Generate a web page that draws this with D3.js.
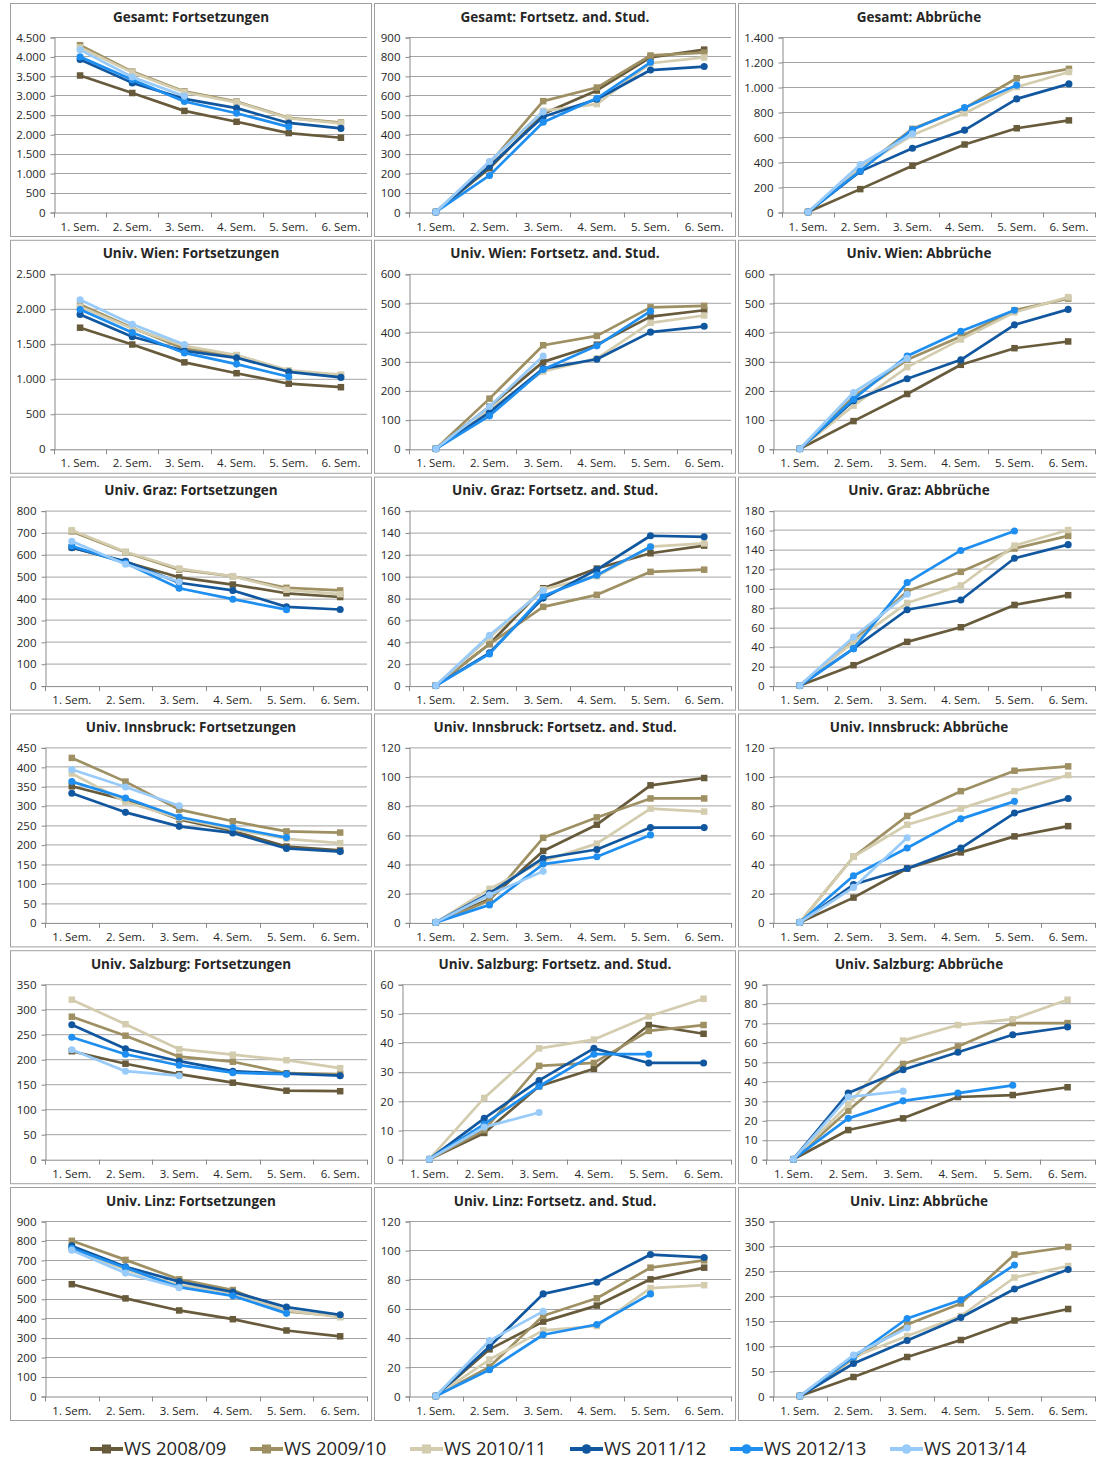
<!DOCTYPE html>
<html>
<head>
<meta charset="utf-8">
<script src="https://cdn.jsdelivr.net/npm/d3@7"></script>
<style>
  html, body { margin: 0; padding: 0; background: #fff; }
  svg { display: block; font-family: "Open Sans", Lato, sans-serif; }
</style>
</head>
<body>
<svg id="chart" width="1096" height="1459"></svg>
<script>
// Semesters on the x axis and the starting cohorts (one line each)
const semesters = ["1. Sem.", "2. Sem.", "3. Sem.", "4. Sem.", "5. Sem.", "6. Sem."];
const cohorts = ["WS 2008/09", "WS 2009/10", "WS 2010/11", "WS 2011/12", "WS 2012/13", "WS 2013/14"];
const cohortColors = ["#675b3c", "#9e9063", "#d3ccae", "#11579f", "#1e8ff0", "#98cbf9"];
const cohortMarkers = ["square", "square", "square", "circle", "circle", "circle"];

// Panel titles, row by row
const panelTitles = [
  "Gesamt: Fortsetzungen", "Gesamt: Fortsetz. and. Stud.", "Gesamt: Abbrüche",
  "Univ. Wien: Fortsetzungen", "Univ. Wien: Fortsetz. and. Stud.", "Univ. Wien: Abbrüche",
  "Univ. Graz: Fortsetzungen", "Univ. Graz: Fortsetz. and. Stud.", "Univ. Graz: Abbrüche",
  "Univ. Innsbruck: Fortsetzungen", "Univ. Innsbruck: Fortsetz. and. Stud.", "Univ. Innsbruck: Abbrüche",
  "Univ. Salzburg: Fortsetzungen", "Univ. Salzburg: Fortsetz. and. Stud.", "Univ. Salzburg: Abbrüche",
  "Univ. Linz: Fortsetzungen", "Univ. Linz: Fortsetz. and. Stud.", "Univ. Linz: Abbrüche"
];

// Value axis range and tick step per panel
const yMax  = [4500, 900, 1400, 2500, 600, 600, 800, 160, 180, 450, 120, 120, 350, 60, 90, 900, 120, 350];
const yStep = [ 500, 100,  200,  500, 100, 100, 100,  20,  20,  50,  20,  20,  50, 10, 10, 100,  20,  50];

// Student counts per cohort (rows) and semester (columns)
const gesamtFortsetzungen = [
  [3510, 3060, 2600, 2320, 2030, 1910],
  [4290, 3610, 3100, 2840, 2420, 2300],
  [4230, 3590, 3080, 2820, 2410, 2280],
  [3920, 3320, 2910, 2670, 2290, 2150],
  [3990, 3400, 2840, 2540, 2190],
  [4170, 3470, 2980]
];
const gesamtAndereStudien = [
  [0, 225, 505, 625, 795, 835],
  [0, 250, 570, 640, 805, 820],
  [0, 255, 520, 555, 765, 795],
  [0, 235, 490, 580, 730, 748],
  [0, 188, 462, 585, 770],
  [0, 260, 515]
];
const gesamtAbbrueche = [
  [0, 183, 370, 540, 670, 733],
  [0, 345, 665, 830, 1070, 1145],
  [0, 355, 615, 790, 1000, 1120],
  [0, 325, 510, 655, 905, 1025],
  [0, 330, 660, 835, 1015],
  [0, 380, 625]
];
const wienFortsetzungen = [
  [1730, 1490, 1235, 1080, 930, 880],
  [2060, 1730, 1430, 1330, 1110, 1050],
  [2030, 1720, 1470, 1340, 1120, 1060],
  [1920, 1600, 1400, 1300, 1100, 1020],
  [1990, 1660, 1370, 1210, 1030],
  [2130, 1780, 1490]
];
const wienAndereStudien = [
  [0, 145, 298, 357, 453, 475],
  [0, 172, 355, 387, 485, 490],
  [0, 135, 265, 310, 432, 457],
  [0, 125, 275, 307, 400, 420],
  [0, 113, 272, 353, 472],
  [0, 145, 318]
];
const wienAbbrueche = [
  [0, 95, 188, 288, 345, 368],
  [0, 178, 305, 385, 475, 515],
  [0, 148, 280, 375, 468, 520],
  [0, 165, 240, 305, 425, 478],
  [0, 170, 318, 403, 475],
  [0, 193, 310]
];
const grazFortsetzungen = [
  [632, 565, 495, 462, 422, 405],
  [705, 610, 530, 500, 447, 435],
  [710, 612, 535, 500, 438, 418],
  [630, 568, 470, 435, 360, 348],
  [638, 560, 445, 395, 347],
  [660, 555, 475]
];
const grazAndereStudien = [
  [0, 38, 89, 107, 121, 128],
  [0, 38, 72, 83, 104, 106],
  [0, 44, 88, 100, 127, 130],
  [0, 30, 80, 106, 137, 136],
  [0, 29, 82, 101, 127],
  [0, 46, 87]
];
const grazAbbrueche = [
  [0, 21, 45, 60, 83, 93],
  [0, 46, 97, 117, 141, 154],
  [0, 45, 85, 103, 144, 160],
  [0, 38, 78, 88, 131, 145],
  [0, 38, 106, 139, 159],
  [0, 50, 94]
];
const innsbruckFortsetzungen = [
  [350, 315, 265, 235, 195, 185],
  [423, 362, 290, 260, 234, 231],
  [383, 310, 268, 240, 215, 204],
  [332, 283, 247, 230, 190, 182],
  [362, 320, 271, 244, 218],
  [393, 348, 300]
];
const innsbruckAndereStudien = [
  [0, 16, 49, 67, 94, 99],
  [0, 15, 58, 72, 85, 85],
  [0, 23, 42, 54, 78, 76],
  [0, 20, 44, 50, 65, 65],
  [0, 12, 40, 45, 60],
  [0, 19, 35]
];
const innsbruckAbbrueche = [
  [0, 17, 37, 48, 59, 66],
  [0, 45, 73, 90, 104, 107],
  [0, 45, 67, 78, 90, 101],
  [0, 26, 37, 51, 75, 85],
  [0, 32, 51, 71, 83],
  [0, 24, 58]
];
const salzburgFortsetzungen = [
  [216, 191, 170, 153, 137, 136],
  [285, 247, 205, 195, 172, 170],
  [319, 270, 220, 209, 198, 182],
  [269, 221, 196, 176, 171, 167],
  [244, 210, 188, 173, 170],
  [219, 176, 167]
];
const salzburgAndereStudien = [
  [0, 9, 25, 31, 46, 43],
  [0, 10, 32, 33, 44, 46],
  [0, 21, 38, 41, 49, 55],
  [0, 14, 27, 38, 33, 33],
  [0, 12, 25, 36, 36],
  [0, 11, 16]
];
const salzburgAbbrueche = [
  [0, 15, 21, 32, 33, 37],
  [0, 25, 49, 58, 70, 70],
  [0, 28, 61, 69, 72, 82],
  [0, 34, 46, 55, 64, 68],
  [0, 21, 30, 34, 38],
  [0, 32, 35]
];
const linzFortsetzungen = [
  [575, 502, 440, 395, 337, 307],
  [798, 700, 600, 545, 435, 410],
  [755, 650, 570, 530, 440, 405],
  [772, 665, 588, 535, 457, 418],
  [760, 660, 560, 515, 425],
  [750, 632, 557]
];
const linzAndereStudien = [
  [0, 32, 51, 62, 80, 88],
  [0, 20, 55, 67, 88, 93],
  [0, 25, 45, 48, 74, 76],
  [0, 34, 70, 78, 97, 95],
  [0, 18, 42, 49, 70],
  [0, 38, 58]
];
const linzAbbrueche = [
  [0, 38, 78, 112, 151, 174],
  [0, 75, 143, 185, 283, 298],
  [0, 78, 120, 160, 237, 260],
  [0, 65, 111, 157, 214, 253],
  [0, 78, 155, 192, 262],
  [0, 82, 136]
];

const panelData = [
  gesamtFortsetzungen, gesamtAndereStudien, gesamtAbbrueche,
  wienFortsetzungen, wienAndereStudien, wienAbbrueche,
  grazFortsetzungen, grazAndereStudien, grazAbbrueche,
  innsbruckFortsetzungen, innsbruckAndereStudien, innsbruckAbbrueche,
  salzburgFortsetzungen, salzburgAndereStudien, salzburgAbbrueche,
  linzFortsetzungen, linzAndereStudien, linzAbbrueche
];

// ---- layout ----
const svg = d3.select("#chart");
const colLeft = [10, 374, 738];
const panelW = 362;
const rowTop = d3.range(6).map(i => 3 + i * 236.8);
const panelH = 234;
const gridColor = "#a3a3a3";
const axisColor = "#8a8a8a";
const textColor = "#262626";
const tickFont = 11.5;

const de = d3.formatLocale({ decimal: ",", thousands: ".", grouping: [3], currency: ["", " €"] });
const fmt = de.format(",d");

// scratch text for measuring tick label widths
const measure = svg.append("text").attr("font-size", tickFont).attr("visibility", "hidden");
function textWidth(s) { measure.text(s); return measure.node().getComputedTextLength(); }

function drawMarker(g, kind, x, y, color, size) {
  if (kind === "square") {
    g.append("rect")
      .attr("x", x - size / 2).attr("y", y - size / 2)
      .attr("width", size).attr("height", size)
      .attr("fill", color);
  } else {
    g.append("circle")
      .attr("cx", x).attr("cy", y).attr("r", size / 2 + 0.3)
      .attr("fill", color);
  }
}

panelData.forEach((series, p) => {
  const col = p % 3, row = Math.floor(p / 3);
  const left = colLeft[col], top = rowTop[row];
  const g = svg.append("g").attr("transform", `translate(${left},${top})`);

  // frame
  g.append("rect")
    .attr("x", 0.5).attr("y", 0.5)
    .attr("width", panelW - 1).attr("height", panelH - 1)
    .attr("fill", "#fff").attr("stroke", "#a0a0a0").attr("stroke-width", 1);

  // title
  g.append("text")
    .attr("x", panelW / 2).attr("y", 18.5)
    .attr("text-anchor", "middle")
    .attr("font-size", 13.5).attr("font-weight", "bold")
    .attr("fill", textColor)
    .text(panelTitles[p]);

  const ticks = d3.range(0, yMax[p] + yStep[p] / 2, yStep[p]);
  const labelW = d3.max(ticks, t => textWidth(fmt(t)));
  const plotL = Math.round(4 + labelW + 11);
  const plotR = panelW - 5;
  const plotT = 34, plotB = 209;

  const x = d3.scaleBand().domain(semesters).range([plotL, plotR]).paddingInner(0).paddingOuter(0);
  const y = d3.scaleLinear().domain([0, yMax[p]]).range([plotB, plotT]);

  // horizontal gridlines
  g.append("g")
    .selectAll("line")
    .data(ticks.filter(t => t > 0))
    .join("line")
    .attr("x1", plotL).attr("x2", plotR)
    .attr("y1", d => Math.round(y(d)) + 0.5).attr("y2", d => Math.round(y(d)) + 0.5)
    .attr("stroke", gridColor).attr("stroke-width", 1);

  // value axis
  const yAxis = g.append("g")
    .attr("transform", `translate(${plotL + 0.5},0.5)`)
    .call(d3.axisLeft(y).tickValues(ticks).tickFormat(fmt).tickSize(4).tickPadding(5));
  yAxis.attr("font-family", null);
  yAxis.select(".domain").attr("stroke", axisColor);
  yAxis.selectAll(".tick line").attr("stroke", axisColor);
  yAxis.selectAll(".tick text").attr("font-size", tickFont).attr("fill", textColor);

  // category axis: labels centred in each band, tick marks at band edges
  const xAxis = g.append("g")
    .attr("transform", `translate(0,${Math.round(plotB) + 0.5})`)
    .call(d3.axisBottom(x).tickSize(0).tickPadding(10));
  xAxis.attr("font-family", null);
  xAxis.select(".domain").attr("stroke", axisColor);
  xAxis.selectAll(".tick text").attr("font-size", tickFont).attr("fill", textColor);
  const edges = semesters.map(s => x(s)).concat([x(semesters[semesters.length - 1]) + x.bandwidth()]);
  xAxis.append("g").selectAll("line")
    .data(edges)
    .join("line")
    .attr("x1", d => Math.round(d) + 0.5).attr("x2", d => Math.round(d) + 0.5)
    .attr("y1", 0).attr("y2", 5)
    .attr("stroke", axisColor);

  // series lines and markers, oldest cohort first
  const cx = i => x(semesters[i]) + x.bandwidth() / 2;
  series.forEach((vals, s) => {
    const line = d3.line().x((d, i) => cx(i)).y(d => y(d));
    g.append("path")
      .datum(vals)
      .attr("d", line)
      .attr("fill", "none")
      .attr("stroke", cohortColors[s])
      .attr("stroke-width", 2.7)
      .attr("stroke-linejoin", "round");
    const mg = g.append("g");
    vals.forEach((v, i) => drawMarker(mg, cohortMarkers[s], cx(i), y(v), cohortColors[s], 6.5));
  });
});

measure.remove();

// ---- legend ----
const legend = svg.append("g").attr("transform", "translate(0,1449)");
cohorts.forEach((name, i) => {
  const lx = 90 + i * 160;
  const item = legend.append("g");
  item.append("line")
    .attr("x1", lx).attr("x2", lx + 33)
    .attr("y1", 0).attr("y2", 0)
    .attr("stroke", cohortColors[i]).attr("stroke-width", 4);
  drawMarker(item, cohortMarkers[i], lx + 16.5, 0, cohortColors[i], 9);
  item.append("text")
    .attr("x", lx + 34).attr("y", 0)
    .attr("dy", "0.35em")
    .attr("font-size", 18.5)
    .attr("fill", textColor)
    .text(name);
});
</script>
</body>
</html>
